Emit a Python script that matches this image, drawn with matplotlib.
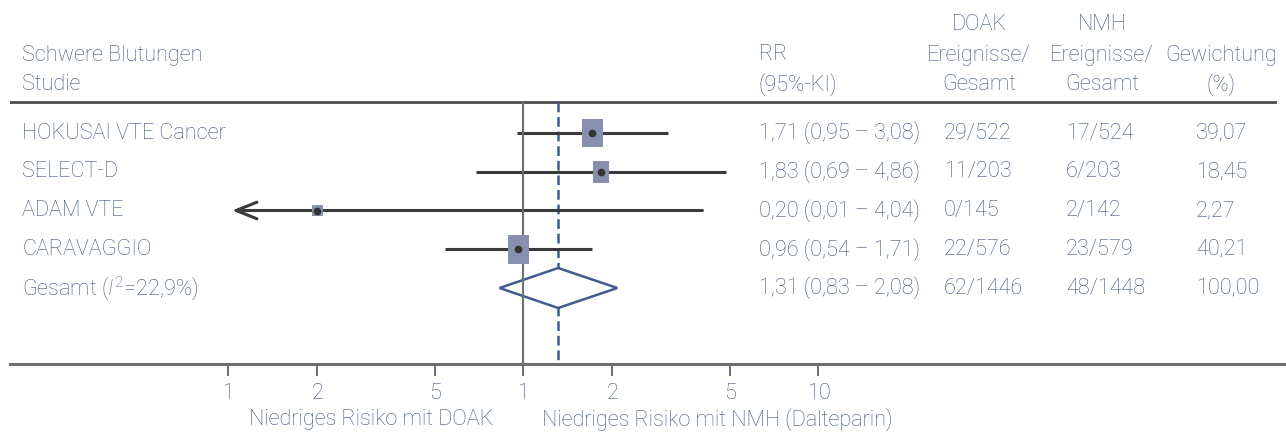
import numpy as np
import matplotlib
import matplotlib.pyplot as plt
from matplotlib.patches import Rectangle, Polygon
from matplotlib.transforms import blended_transform_factory

# data
studies = ['HOKUSAI VTE Cancer', 'SELECT-D', 'ADAM VTE', 'CARAVAGGIO']
rr = [1.71, 1.83, 0.20, 0.96]
ci_low = [0.95, 0.69, 0.01, 0.54]
ci_high = [3.08, 4.86, 4.04, 1.71]
doak_events = ['29/522', '11/203', '0/145', '22/576']
nmh_events = ['17/524', '6/203', '2/142', '23/579']
weights = [39.07, 18.45, 2.27, 40.21]

total_label = 'Gesamt ($\\mathit{I}^{2}$=22,9%)'
total_rr = 1.31
total_low = 0.83
total_high = 2.08
total_doak = '62/1446'
total_nmh = '48/1448'
total_weight = 100.00

tick_vals = [0.1, 0.2, 0.5, 1, 2, 5, 10]
tick_labels = ['1', '2', '5', '1', '2', '5', '10']


def de(x):
    return f'{x:.2f}'.replace('.', ',')


TXT = '#42557f'
BOX = '#8790ae'
LINE = '#3a3a3a'
GREY = '#6e6e6e'
BLUE = '#3f5c8e'

plt.rcParams['font.family'] = ['Roboto', 'DejaVu Sans']
plt.rcParams['font.weight'] = 'light'
plt.rcParams['mathtext.fontset'] = 'custom'
plt.rcParams['mathtext.rm'] = 'Roboto:light'
plt.rcParams['mathtext.it'] = 'Roboto:italic:light'
plt.rcParams['lines.scale_dashes'] = False
fs = 15.6

W, H = 1286, 432
PPD = 295.0      # pixels per decade
X1 = 523.5       # pixel of RR = 1
ROW0, ROWH = 133.0, 38.75

fig = plt.figure(figsize=(W / 100, H / 100), dpi=100)
ax = fig.add_axes([10 / W, 0, 1276 / W, 1])
ax.set_xscale('log')
ax.set_xlim(10 ** ((10 - X1) / PPD), 10 ** ((1286 - X1) / PPD))


def py(p):
    return (p - ROW0) / ROWH


ax.set_ylim(py(H), py(0))
for s in ['top', 'left', 'right']:
    ax.spines[s].set_visible(False)
ax.spines['bottom'].set_position(('data', py(364)))
ax.spines['bottom'].set_color(GREY)
ax.spines['bottom'].set_linewidth(2.2)
ax.set_yticks([])
ax.set_xticks(tick_vals)
ax.set_xticklabels(tick_labels)
ax.xaxis.set_minor_locator(matplotlib.ticker.NullLocator())
ax.tick_params(axis='x', direction='out', length=8.5, width=1.4, color=GREY,
               labelsize=fs, labelcolor=TXT, pad=5)

# header rule and reference lines
ax.axhline(py(102), xmin=0, xmax=(1275 - 10) / 1276, color='#4d4d4d', lw=2.0)
ax.plot([1, 1], [py(102), py(364)], color=GREY, lw=1.5, zorder=4)
ax.plot([total_rr, total_rr], [py(102), py(364)], color=BLUE, lw=1.8,
        dashes=(7, 3.5), zorder=2)

lo_clip = 10 ** ((232 - X1) / PPD)
for i in range(len(studies)):
    lo = ci_low[i]
    if lo < lo_clip:
        ax.annotate('', xy=(lo_clip, i), xytext=(ci_high[i], i),
                    arrowprops=dict(arrowstyle='->,head_length=1.0,head_width=0.4',
                                    color=LINE, lw=2.2, mutation_scale=15,
                                    shrinkA=0, shrinkB=0), zorder=3)
    else:
        ax.plot([lo, ci_high[i]], [i, i], color=LINE, lw=2.2, zorder=3,
                solid_capstyle='butt')
    hpx = 6.2 + 3.6 * np.sqrt(weights[i])
    wpx = 0.6 * hpx + 3.5
    x0 = rr[i] * 10 ** (-wpx / 2 / PPD)
    x1 = rr[i] * 10 ** (wpx / 2 / PPD)
    ax.add_patch(Rectangle((x0, i - hpx / 2 / ROWH), x1 - x0, hpx / ROWH,
                           facecolor=BOX, edgecolor='none', zorder=5))
    ax.plot(rr[i], i, 'o', ms=5.5, color='#333333', mec='none', zorder=6)

yt = len(studies)
dh = 20 / ROWH
ax.add_patch(Polygon([(total_low, yt), (total_rr, yt - dh), (total_high, yt),
                      (total_rr, yt + dh)], closed=True, facecolor='white',
                     edgecolor=BLUE, lw=1.8, zorder=3))

# table text
tr = blended_transform_factory(fig.transFigure, ax.transData)
names = studies + [total_label]
rr_txt = [f'{de(r)} ({de(l)} – {de(h)})' for r, l, h in zip(rr, ci_low, ci_high)]
rr_txt.append(f'{de(total_rr)} ({de(total_low)} – {de(total_high)})')
doak = doak_events + [total_doak]
nmh = nmh_events + [total_nmh]
wt = [de(w) for w in weights] + [de(total_weight)]
for i in range(len(names)):
    kw = dict(transform=tr, va='center', fontsize=fs, color=TXT)
    fig.text(22 / W, i, names[i], ha='left', **kw)
    fig.text(759 / W, i, rr_txt[i], ha='left', **kw)
    fig.text(944 / W, i, doak[i], ha='left', **kw)
    fig.text(1066 / W, i, nmh[i], ha='left', **kw)
    fig.text(1196 / W, i, wt[i], ha='left', **kw)


def ft(x, y, s, ha='left'):
    fig.text(x / W, 1 - y / H, s, ha=ha, va='center', fontsize=fs, color=TXT)


ft(22, 55, 'Schwere Blutungen')
ft(22, 85, 'Studie')
ft(759, 55, 'RR')
ft(759, 85, '(95%-KI)')
ft(979, 25, 'DOAK', 'center')
ft(979, 55, 'Ereignisse/', 'center')
ft(979, 85, 'Gesamt', 'center')
ft(1102, 25, 'NMH', 'center')
ft(1102, 55, 'Ereignisse/', 'center')
ft(1102, 85, 'Gesamt', 'center')
ft(1221, 55, 'Gewichtung', 'center')
ft(1221, 85, '(%)', 'center')
ft(371, 420, 'Niedriges Risiko mit DOAK', 'center')
ft(542, 420, 'Niedriges Risiko mit NMH (Dalteparin)')

fig.savefig('out.png', dpi=100)
